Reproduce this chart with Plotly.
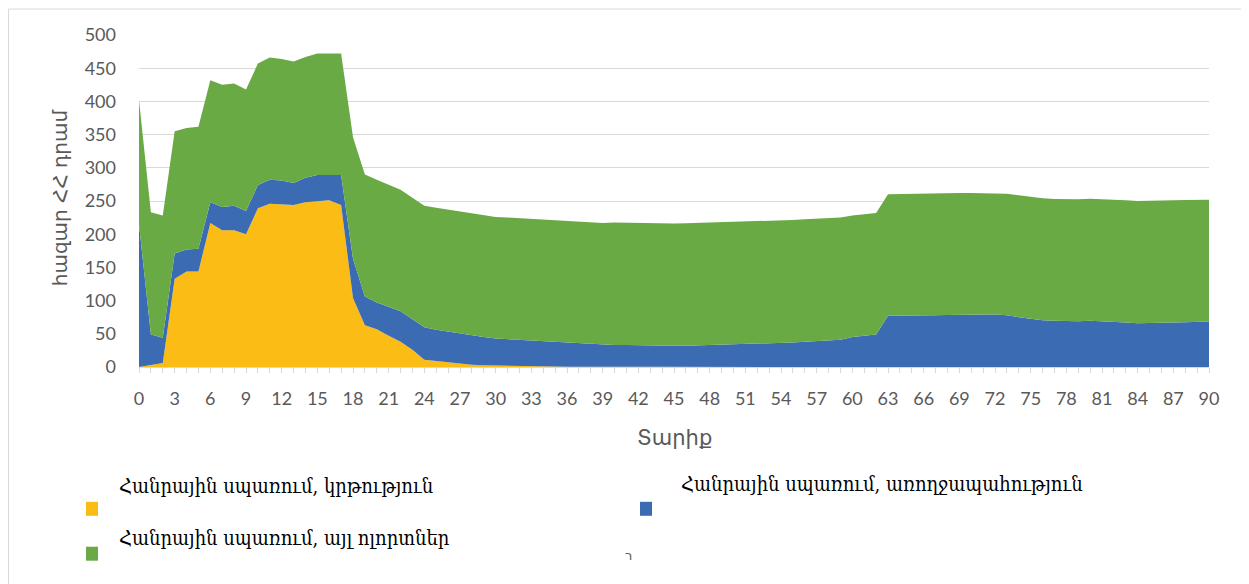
import plotly.graph_objects as go

ages = list(range(0, 91))

education = [0, 3, 6, 133, 144, 144, 217, 206, 206, 200,
             239, 246, 245, 244, 248, 250, 251, 244, 104, 63,
             57, 47, 38, 26, 11, 9, 7, 5, 3.5, 2.5,
             2, 1.5, 1.2, 1, 0.8, 0.6, 0.5, 0.3, 0.3, 0.3,
             0.3, 0.2, 0.2, 0.2, 0.2, 0.2, 0.1, 0.1, 0.1, 0.1,
             0.1, 0.1, 0.1, 0.1, 0.1, 0.1, 0, 0, 0, 0,
             0, 0, 0, 0, 0, 0, 0, 0, 0, 0,
             0, 0, 0, 0, 0, 0, 0, 0, 0, 0,
             0, 0, 0, 0, 0, 0, 0, 0, 0, 0,
             0]

health = [215, 46, 38, 38, 33, 34, 31, 35, 37, 35,
          35, 36, 36, 33, 37, 39, 38, 45, 59, 43,
          40, 43, 46, 46, 49, 47, 46, 45, 43.5, 42.5,
          41, 40.5, 39.8, 39, 38.2, 37.4, 36.5, 35.7, 34.7, 32.7,
          32.7, 32.8, 32.3, 32.3, 31.8, 31.8, 31.9, 32.4, 32.4, 32.9,
          33.9, 34.9, 35.4, 35.4, 35.9, 36.9, 38, 39, 40, 41,
          45, 47, 49, 77, 77, 77.5, 77.5, 78, 78.5, 79,
          79, 79, 79, 78, 75, 72.5, 70.5, 69.5, 69, 69,
          69.5, 69, 68, 67, 66, 66, 66, 67, 67.5, 68,
          68.5]

other = [187, 184, 184, 184, 183, 184, 184, 184, 184, 183,
         183, 184, 183, 183, 182, 183, 183, 183, 183, 184,
         185, 184, 183, 183, 183, 184, 184, 184, 184, 184,
         183, 183, 183, 182.5, 182, 182, 182, 182, 182.5, 184,
         184.5, 184, 184, 183.5, 184, 184, 184.5, 184.5, 184.5, 184.5,
         184, 183.5, 183.5, 184, 184, 184.5, 184.5, 184, 183.5, 184,
         183, 183, 183, 183, 183.5, 183, 183.5, 183, 183, 183,
         183, 183, 183, 183, 183.5, 183.5, 183.5, 183.5, 183.5, 183.5,
         184, 184, 184, 184, 184, 184, 184, 184, 184, 184,
         183.5]

series_names = ["Հանրային սպառում, կրթություն",
                "Հանրային սպառում, առողջապահություն",
                "Հանրային սպառում, այլ ոլորտներ"]
series_colors = ["#FBBC15", "#3A6BB3", "#6AAA45"]

x_ticks = list(range(0, 91, 3))
y_ticks = list(range(0, 501, 50))

y_title = "հազար ՀՀ դրամ"
x_title = "Տարիք"
stray_text = "ר"

# the page body has an 8px margin; work in page pixels and shift
OFF = 8
W, H = 1249 - OFF, 584 - OFF
L, R, T, B = 139 - OFF, 1209 - OFF, 34.5 - OFF, 367 - OFF

fig = go.Figure()
for name, vals, col in zip(series_names, [education, health, other], series_colors):
    fig.add_trace(go.Scatter(
        x=ages, y=vals, name=name, stackgroup="one", mode="lines",
        line=dict(width=0, color=col), fillcolor=col, showlegend=False,
        hoverinfo="x+y+name"))

def px(xp):
    return (xp - OFF - L) / (R - L)

def py(yp):
    return (B - (yp - OFF)) / (B - T)

tick_font = dict(family="Lato, Carlito, sans-serif", size=18, color="#595959")

fig.update_layout(
    width=W, height=H,
    margin=dict(l=L, r=W - R, t=T, b=H - B, pad=0),
    paper_bgcolor="white", plot_bgcolor="white",
    xaxis=dict(range=[0, 90], tickvals=x_ticks, ticktext=[str(v) for v in x_ticks],
               tickfont=tick_font, ticks="outside", ticklen=5, tickcolor="#d9d9d9",
               showline=True, linecolor="#d9d9d9", linewidth=1, showgrid=False,
               zeroline=False, ticklabelstandoff=10,
               minor=dict(dtick=1, tick0=0, ticks="outside", ticklen=5, tickcolor="#d9d9d9",
                          showgrid=False)),
    yaxis=dict(range=[0, 500], tickvals=y_ticks, ticktext=[str(v) for v in y_ticks],
               tickfont=tick_font, showgrid=True, gridcolor="#d9d9d9", gridwidth=1,
               zeroline=False, showline=False, ticks="", ticklabelstandoff=22),
    hovermode="closest",
)

annotations = [
    dict(text=y_title, x=px(60), y=py(198), xref="paper", yref="paper", textangle=-90,
         showarrow=False, font=dict(family="DejaVu Sans, sans-serif", size=20, color="#595959"),
         xanchor="center", yanchor="middle"),
    dict(text=x_title, x=px(674), y=py(438), xref="paper", yref="paper",
         showarrow=False, font=dict(family="DejaVu Sans, sans-serif", size=21, color="#595959"),
         xanchor="center", yanchor="middle"),
    dict(text=stray_text, x=px(628), y=py(556), xref="paper", yref="paper",
         showarrow=False, font=dict(family="DejaVu Sans, sans-serif", size=13, color="#595959"),
         xanchor="center", yanchor="middle"),
]

legend_pos = [  # (marker left, marker top, text left, text center y)
    (86, 502, 117, 486),
    (640, 502, 679, 484),
    (86, 547, 117, 538),
]
shapes = []
for (mx, my, tx, ty), name, col in zip(legend_pos, series_names, series_colors):
    shapes.append(dict(type="rect", xref="paper", yref="paper",
                       x0=px(mx), x1=px(mx + 12), y0=py(my), y1=py(my + 14),
                       fillcolor=col, line=dict(width=0)))
    annotations.append(dict(text=name, x=px(tx), y=py(ty), xref="paper", yref="paper",
                            showarrow=False, xanchor="left", yanchor="middle",
                            font=dict(family="DejaVu Serif Condensed, DejaVu Serif, serif",
                                      size=20, color="#000000")))

shapes.append(dict(type="rect", xref="paper", yref="paper",
                   x0=px(8.5), x1=px(1270), y0=py(8.5), y1=py(620),
                   line=dict(color="#d9d9d9", width=1), fillcolor="rgba(0,0,0,0)", layer="below"))

fig.update_layout(annotations=annotations, shapes=shapes)
fig.write_html("out.html")
